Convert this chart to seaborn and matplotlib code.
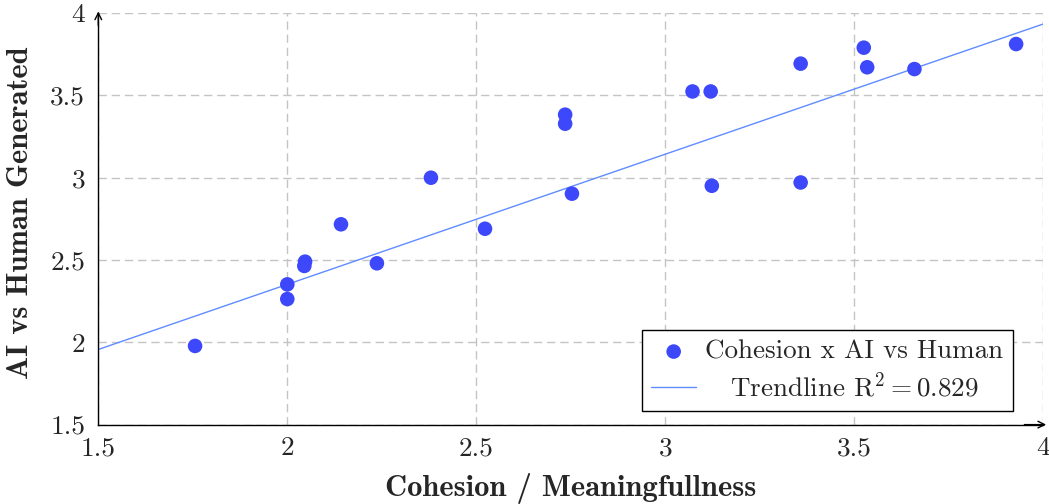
import numpy as np
import pandas as pd
import matplotlib
matplotlib.use("Agg")
import matplotlib.pyplot as plt
import seaborn as sns

# Per-text scores: cohesion/meaningfulness vs. AI-vs-human rating
cohesion = [1.756, 2.000, 2.000, 2.047, 2.045, 2.142, 2.237, 2.380, 2.523,
            2.735, 2.735, 2.753, 3.072, 3.120, 3.123, 3.358, 3.358, 3.525,
            3.534, 3.659, 3.928]
ai_vs_human = [1.978, 2.352, 2.263, 2.490, 2.464, 2.717, 2.480, 3.000, 2.690,
               3.383, 3.328, 2.903, 3.524, 3.524, 2.951, 3.693, 2.971, 3.790,
               3.671, 3.660, 3.812]

# Linear trendline (y = slope * x + intercept)
trend_slope = 0.791
trend_intercept = 0.770

tick_values = [1.5, 2, 2.5, 3, 3.5, 4]
tick_labels = ["1.5", "2", "2.5", "3", "3.5", "4"]

scatter_label = "Cohesion x AI vs Human"
trend_label = r"Trendline $\mathrm{R}^2 = 0.829$"

df = pd.DataFrame({"cohesion": cohesion, "ai_vs_human": ai_vs_human})

sns.set_theme(style="white")
plt.rcParams["font.family"] = ["cmr10", "DejaVu Serif"]
plt.rcParams["mathtext.fontset"] = "cm"
plt.rcParams["axes.formatter.use_mathtext"] = True

point_color = "#3d48fb"
line_color = "#5f8cff"
tick_size = 19.7
label_size = 22.0
legend_size = 19.5

fig = plt.figure(figsize=(10.49, 5.04), dpi=100)
ax = fig.add_axes([0.0937, 0.1575, 0.9009, 0.8165])
ax.set_xlim(1.5, 4)
ax.set_ylim(1.5, 4)

sns.scatterplot(data=df, x="cohesion", y="ai_vs_human", ax=ax, s=110,
                color=point_color, edgecolor="none", label=scatter_label,
                zorder=3)

x_line = np.array(ax.get_xlim())
trend_df = pd.DataFrame({"x": x_line, "y": trend_slope * x_line + trend_intercept})
sns.lineplot(data=trend_df, x="x", y="y", ax=ax, color=line_color,
             linewidth=1.0, label=trend_label, zorder=2)

ax.set_xlim(1.5, 4)
ax.set_ylim(1.5, 4)
ax.set_xticks(tick_values)
ax.set_xticklabels(tick_labels)
ax.set_yticks(tick_values)
ax.set_yticklabels(tick_labels)
for lbl in ax.get_xticklabels() + ax.get_yticklabels():
    lbl.set_fontfamily("cmr10")
    lbl.set_fontsize(tick_size)

ax.tick_params(axis="both", direction="inout", length=7, width=0.8,
               color="#444444")
ax.tick_params(axis="y", pad=6)
ax.tick_params(axis="x", pad=5)

ax.grid(True, color="#c4c4c4", linestyle=(0, (6, 3.5)), linewidth=1.0)
ax.set_axisbelow(True)

for side in ("top", "right"):
    ax.spines[side].set_visible(False)
for side in ("left", "bottom"):
    ax.spines[side].set_color("black")
    ax.spines[side].set_linewidth(1.0)

# arrow heads on the axis lines
ax.annotate("", xy=(1.003, 0), xytext=(0.98, 0), xycoords="axes fraction",
            arrowprops=dict(arrowstyle="->", color="black", lw=1.0,
                            shrinkA=0, shrinkB=0), annotation_clip=False)
ax.annotate("", xy=(0, 1.004), xytext=(0, 0.97), xycoords="axes fraction",
            arrowprops=dict(arrowstyle="->", color="black", lw=1.0,
                            shrinkA=0, shrinkB=0), annotation_clip=False)

ax.set_xlabel("Cohesion / Meaningfullness", fontfamily="cmb10",
              fontsize=label_size, labelpad=9.5)
ax.set_ylabel("AI vs Human Generated", fontfamily="cmb10",
              fontsize=label_size, labelpad=2)
ax.yaxis.set_label_coords(-0.068, 0.515)

leg = ax.legend(loc="lower right", bbox_to_anchor=(0.968, 0.033),
                borderaxespad=0, frameon=True, fancybox=False,
                edgecolor="black", framealpha=1, fontsize=legend_size,
                handlelength=1.65, handletextpad=0.35, borderpad=0.35,
                labelspacing=0.3)
leg.get_frame().set_linewidth(1.0)
for t in leg.get_texts():
    t.set_fontfamily("cmr10")

# centre each legend entry's text within the text column
fig.canvas.draw()
renderer = fig.canvas.get_renderer()
widths = [t.get_window_extent(renderer).width for t in leg.get_texts()]
rows = leg._legend_handle_box.get_children()[0].get_children()
for row, w in zip(rows, widths):
    row.sep += (max(widths) - w) / 2 * 72.0 / fig.dpi

fig.savefig("out.png", dpi=100)
